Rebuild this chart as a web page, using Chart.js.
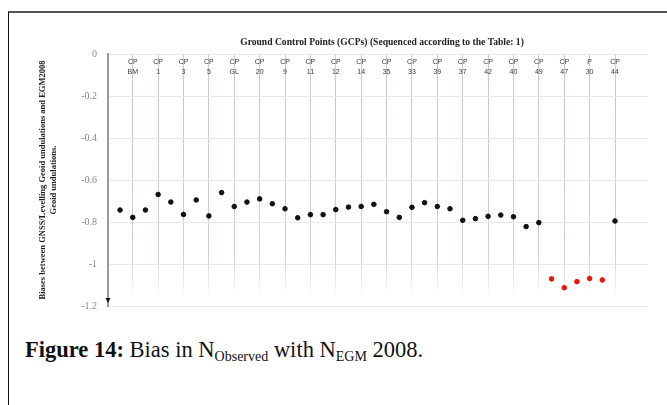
<!DOCTYPE html>
<html>
<head>
<meta charset="utf-8">
<script src="https://cdn.jsdelivr.net/npm/chart.js@4/dist/chart.umd.min.js"></script>
<style>
  html, body { margin: 0; padding: 0; background: #fff; }
  body { width: 667px; height: 405px; position: relative; overflow: hidden; }
  #frame { position: absolute; left: 8px; top: 11px; right: 0; bottom: 0;
           border-top: 2px solid #555; border-left: 1px solid #111; }
  #wrap { position: absolute; left: 0; top: 0; width: 667px; height: 330px; }
  #caption { position: absolute; left: 25px; top: 337px; white-space: nowrap;
             font-family: "Liberation Serif", "DejaVu Serif", serif; font-size: 22.5px; color: #111; }
  #caption b { font-weight: bold; }
  #caption sub { font-size: 14px; vertical-align: -4px; line-height: 0; }
</style>
</head>
<body>
<div id="frame"></div>
<div id="wrap"><canvas id="chart" width="667" height="330"></canvas></div>
<div id="caption"><b>Figure 14:</b> Bias in N<sub>Observed</sub> with N<sub>EGM</sub> 2008.</div>
<script>
// Ground control points, in survey sequence (labels sit on every second position)
const gcpLabels = [
  ["CP", "BM"], ["CP", "1"], ["CP", "3"], ["CP", "5"], ["CP", "GL"],
  ["CP", "20"], ["CP", "9"], ["CP", "11"], ["CP", "12"], ["CP", "14"],
  ["CP", "35"], ["CP", "33"], ["CP", "39"], ["CP", "37"], ["CP", "42"],
  ["CP", "40"], ["CP", "49"], ["CP", "47"], ["P", "30"], ["CP", "44"]
];
const gcpLabelPositions = [1, 3, 5, 7, 9, 11, 13, 15, 17, 19, 21, 23, 25, 27, 29, 31, 33, 35, 37, 39];

// Bias (m) between GNSS/levelling geoid undulations and EGM2008, one per observation
const biases = [
  -0.743, -0.778, -0.743, -0.669, -0.705, -0.764, -0.695, -0.771, -0.660, -0.726,
  -0.705, -0.690, -0.713, -0.737, -0.780, -0.765, -0.765, -0.741, -0.729, -0.726,
  -0.716, -0.751, -0.778, -0.730, -0.708, -0.726, -0.737, -0.792, -0.784, -0.773,
  -0.767, -0.775, -0.822, -0.803, -1.071, -1.113, -1.084, -1.069, -1.076, -0.795
];
// Observations flagged as outliers (shown in red)
const outlierIndices = [34, 35, 36, 37, 38];

const yTicks = [0, -0.2, -0.4, -0.6, -0.8, -1, -1.2];
const chartTitle = "Ground Control Points (GCPs) (Sequenced according to the Table: 1)";
const yTitle = ["Biases between GNSS/Levelling Geoid undulations and EGM2008", "Geoid undulations."];

const normalPts = [], outlierPts = [];
biases.forEach((v, i) => {
  (outlierIndices.includes(i) ? outlierPts : normalPts).push({ x: i, y: v });
});

// Chart title centred over the plot area
const titlePlugin = {
  id: 'plotTitle',
  afterDraw(chart) {
    const { ctx, chartArea } = chart;
    ctx.save();
    ctx.font = 'bold 9.6px "Liberation Serif", serif';
    ctx.fillStyle = '#222';
    ctx.textAlign = 'center';
    ctx.textBaseline = 'middle';
    ctx.fillText(chartTitle, (chartArea.left + chartArea.right) / 2 + 4, chartArea.top - 11);
    ctx.restore();
  }
};

// Arrow head at the lower end of the value axis
const arrowPlugin = {
  id: 'axisArrow',
  afterDraw(chart) {
    const { ctx } = chart;
    const ys = chart.scales.y;
    const x = ys.right;
    const tip = ys.getPixelForValue(-1.2) - 3;
    ctx.save();
    ctx.fillStyle = '#111';
    ctx.beginPath();
    ctx.moveTo(x - 2.5, tip - 5);
    ctx.lineTo(x + 2.5, tip - 5);
    ctx.lineTo(x, tip);
    ctx.closePath();
    ctx.fill();
    ctx.restore();
  }
};

new Chart(document.getElementById('chart'), {
  type: 'scatter',
  data: {
    datasets: [
      { data: normalPts, backgroundColor: '#111', borderColor: '#111', pointRadius: 2.3, pointHoverRadius: 2.3 },
      { data: outlierPts, backgroundColor: '#e8140c', borderColor: '#e8140c', pointRadius: 2.3, pointHoverRadius: 2.3 }
    ]
  },
  options: {
    responsive: false,
    animation: false,
    events: [],
    layout: { padding: { left: 0, top: 54, right: 19, bottom: 24 } },
    plugins: { legend: { display: false }, tooltip: { enabled: false }, title: { display: false } },
    scales: {
      x: {
        type: 'linear',
        position: { y: 0 },
        min: -0.95,
        max: 41.6,
        afterBuildTicks(scale) {
          scale.ticks = gcpLabelPositions.map(v => ({ value: v }));
        },
        ticks: {
          autoSkip: false,
          maxRotation: 0,
          padding: 4,
          color: '#3a3a3a',
          font: { family: '"Liberation Sans", Arial, sans-serif', size: 7, lineHeight: 1.3 },
          callback: (v, i) => gcpLabels[i]
        },
        grid: {
          drawTicks: false,
          lineWidth: 1,
          color(context) {
            const area = context.chart.chartArea;
            if (!area) return 'rgba(195,202,215,0.8)';
            const g = context.chart.ctx.createLinearGradient(0, area.top, 0, area.bottom);
            g.addColorStop(0, 'rgba(190,198,212,0.9)');
            g.addColorStop(0.8, 'rgba(190,198,212,0.8)');
            g.addColorStop(0.97, 'rgba(190,198,212,0)');
            g.addColorStop(1, 'rgba(190,198,212,0)');
            return g;
          }
        },
        border: { display: false }
      },
      y: {
        min: -1.2,
        max: 0,
        afterBuildTicks(scale) {
          scale.ticks = yTicks.map(v => ({ value: v }));
        },
        afterFit(scale) { scale.width = 108; },
        ticks: {
          padding: 11,
          color: '#888',
          font: { family: '"Liberation Serif", serif', size: 10 },
          callback: v => String(+v.toFixed(1))
        },
        grid: { drawTicks: false, color: '#e9e9e9', lineWidth: 1 },
        border: { display: true, color: '#9a9a9a', width: 2 },
        title: {
          display: true,
          text: yTitle,
          color: '#222',
          font: { family: '"Liberation Serif", serif', size: 8.5, weight: 'bold', lineHeight: 1.25 },
          padding: { top: 37.7, bottom: 0 }
        }
      }
    }
  },
  plugins: [titlePlugin, arrowPlugin]
});
</script>
</body>
</html>
